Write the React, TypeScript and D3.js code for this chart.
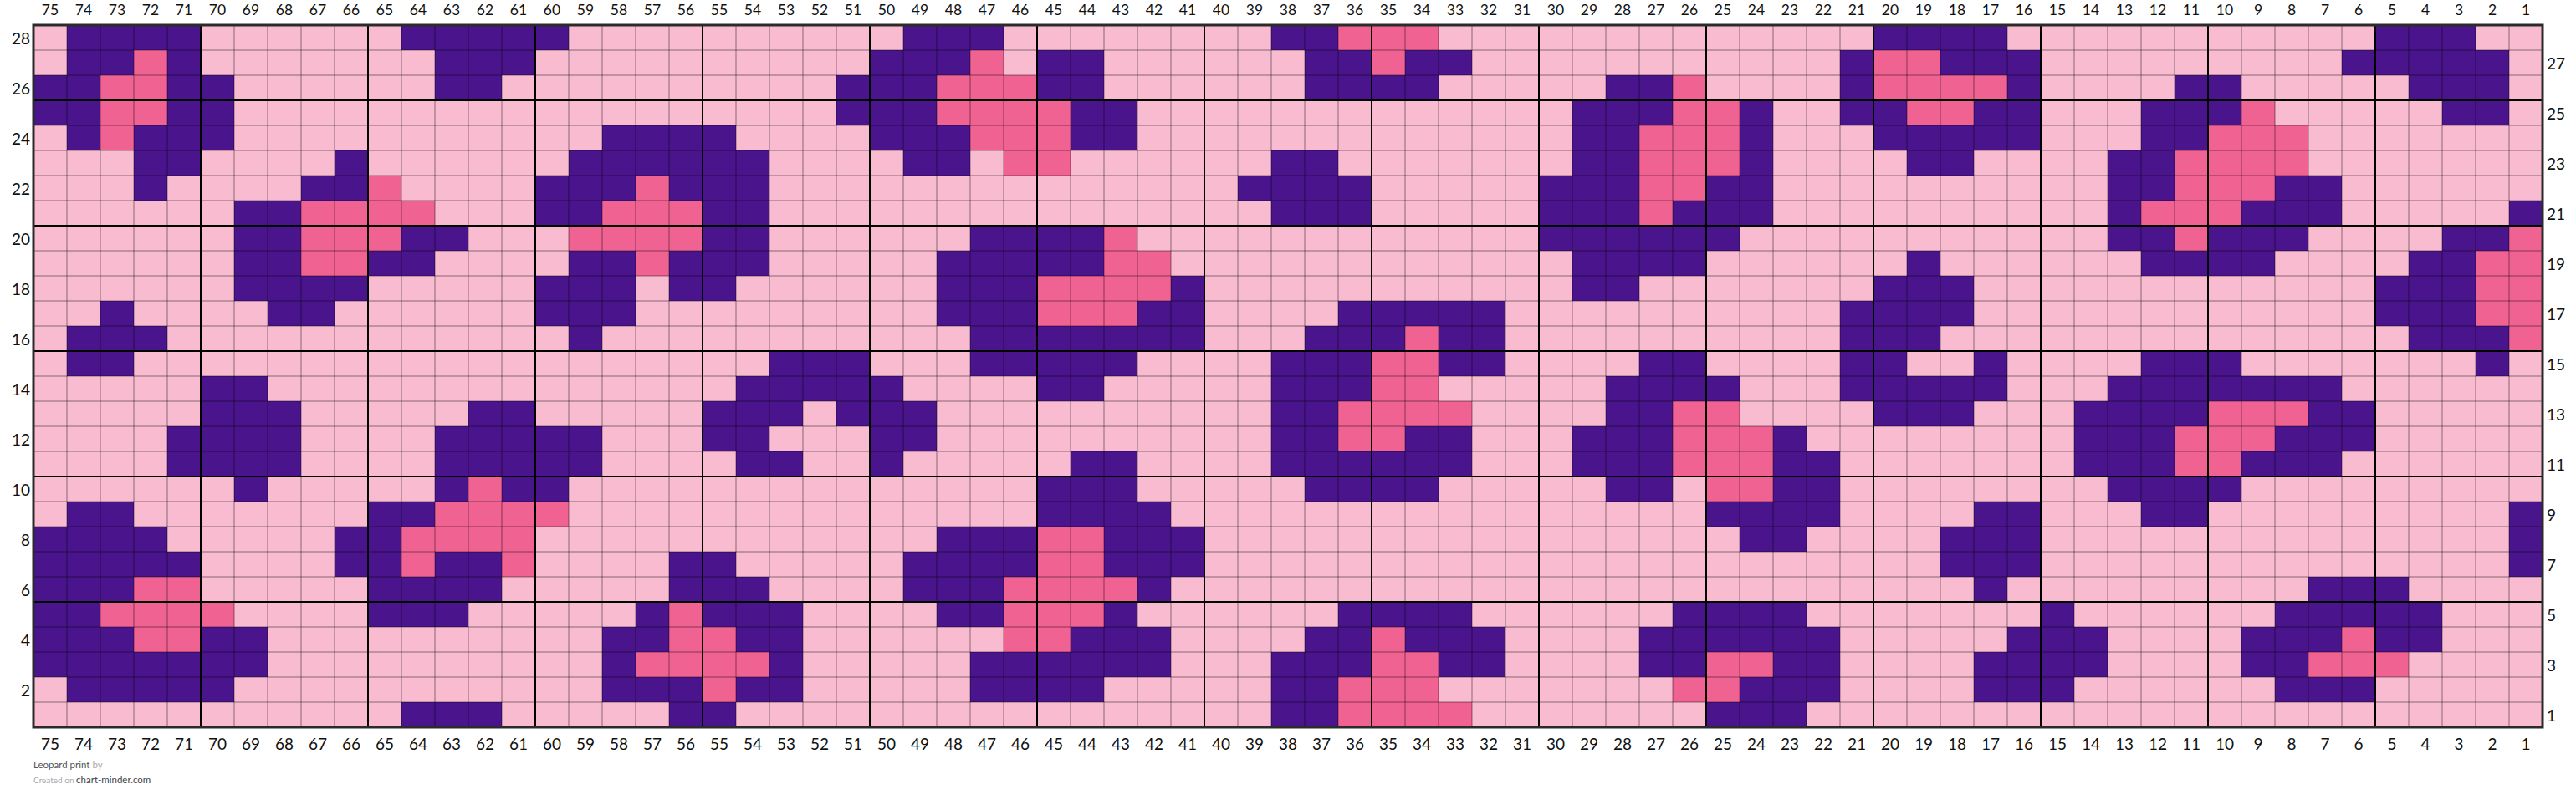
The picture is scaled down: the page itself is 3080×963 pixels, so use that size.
import React from "react";
import * as d3 from "d3";

// Columns are numbered 75 (left) to 1 (right); rows 28 (top) to 1 (bottom).
const columnNumbers: number[] = d3.range(75, 0, -1);
const rowNumbers: number[] = d3.range(28, 0, -1);

// '.' = background light pink, 'D' = dark purple, 'P' = pink. Each string runs from column 75 to column 1.
const chartRows: string[] = [
  /*28*/ ".DDDD" + "....." + ".DDDD" + "D...." + "....." + ".DDD." + "....." + "..DDP" + "PP..." + "....." + "....." + "DDDD." + "....." + "....." + "DDD..",
  /*27*/ ".DDPD" + "....." + "..DDD" + "....." + "....." + "DDDP." + "DD..." + "...DD" + "PDD.." + "....." + "....D" + "PPDDD" + "....." + "....D" + "DDDD.",
  /*26*/ "DDPPD" + "D...." + "..DD." + "....." + "....D" + "DDPPP" + "DD..." + "...DD" + "DD..." + "..DDP" + "....D" + "PPPPD" + "....D" + "D...." + ".DDD.",
  /*25*/ "DDPPD" + "D...." + "....." + "....." + "....D" + "DDPPP" + "PDD.." + "....." + "....." + ".DDDP" + "PD..D" + "DPPDD" + "...DD" + "DP..." + "..DD.",
  /*24*/ ".DPDD" + "D...." + "....." + "..DDD" + "D...." + "DDDPP" + "PDD.." + "....." + "....." + ".DDPP" + "PD..." + "DDDDD" + "...DD" + "PPP.." + ".....",
  /*23*/ "...DD" + "....D" + "....." + ".DDDD" + "DD..." + ".DD.P" + "P...." + "..DD." + "....." + ".DDPP" + "PD..." + ".DD.." + "..DDP" + "PPP.." + ".....",
  /*22*/ "...D." + "...DD" + "P...." + "DDDPD" + "DD..." + "....." + "....." + ".DDDD" + "....." + "DDDPP" + "DD..." + "....." + "..DDP" + "PPDD." + ".....",
  /*21*/ "....." + ".DDPP" + "PP..." + "DDPPP" + "DD..." + "....." + "....." + "..DDD" + "....." + "DDDPD" + "DD..." + "....." + "..DPP" + "PDDD." + "....D",
  /*20*/ "....." + ".DDPP" + "PDD.." + ".PPPP" + "DD..." + "...DD" + "DDP.." + "....." + "....." + "DDDDD" + "D...." + "....." + "..DDP" + "DDD.." + "..DDP",
  /*19*/ "....." + ".DDPP" + "DD..." + ".DDPD" + "DD..." + "..DDD" + "DDPP." + "....." + "....." + ".DDDD" + "....." + ".D..." + "...DD" + "DD..." + ".DDPP",
  /*18*/ "....." + ".DDDD" + "....." + "DDD.D" + "D...." + "..DDD" + "PPPPD" + "....." + "....." + ".DD.." + "....." + "DDD.." + "....." + "....." + "DDDPP",
  /*17*/ "..D.." + "..DD." + "....." + "DDD.." + "....." + "..DDD" + "PPPDD" + "....D" + "DDDD." + "....." + "....D" + "DDD.." + "....." + "....." + "DDDPP",
  /*16*/ ".DDD." + "....." + "....." + ".D..." + "....." + "...DD" + "DDDDD" + "...DD" + "DPDD." + "....." + "....D" + "DD..." + "....." + "....." + ".DDDP",
  /*15*/ ".DD.." + "....." + "....." + "....." + "..DDD" + "...DD" + "DDD.." + "..DDD" + "PPDD." + "...DD" + "....D" + "D..D." + "...DD" + "D...." + "...D.",
  /*14*/ "....." + "DD..." + "....." + "....." + ".DDDD" + "D...." + "DD..." + "..DDD" + "PP..." + "..DDD" + "D...D" + "DDDD." + "..DDD" + "DDDD." + ".....",
  /*13*/ "....." + "DDD.." + "...DD" + "....." + "DDD.D" + "DD..." + "....." + "..DDP" + "PPP.." + "..DDP" + "P...." + "DDD.." + ".DDDD" + "PPPDD" + ".....",
  /*12*/ "....D" + "DDD.." + "..DDD" + "DD..." + "DD..." + "DD..." + "....." + "..DDP" + "PDD.." + ".DDDP" + "PPD.." + "....." + ".DDDP" + "PPDDD" + ".....",
  /*11*/ "....D" + "DDD.." + "..DDD" + "DD..." + ".DD.." + "D...." + ".DD.." + "..DDD" + "DDD.." + ".DDDP" + "PPDD." + "....." + ".DDDP" + "PDDD." + ".....",
  /*10*/ "....." + ".D..." + "..DPD" + "D...." + "....." + "....." + "DDD.." + "...DD" + "DD..." + "..DD." + "PPDD." + "....." + "..DDD" + "D...." + ".....",
  /* 9*/ ".DD.." + "....." + "DDPPP" + "P...." + "....." + "....." + "DDDD." + "....." + "....." + "....." + "DDDD." + "...DD" + "...DD" + "....." + "....D",
  /* 8*/ "DDDD." + "....D" + "DPPPP" + "....." + "....." + "..DDD" + "PPDDD" + "....." + "....." + "....." + ".DD.." + "..DDD" + "....." + "....." + "....D",
  /* 7*/ "DDDDD" + "....D" + "DPDDP" + "....D" + "D...." + ".DDDD" + "PPDDD" + "....." + "....." + "....." + "....." + "..DDD" + "....." + "....." + "....D",
  /* 6*/ "DDDPP" + "....." + "DDDD." + "....D" + "DD..." + ".DDDP" + "PPPD." + "....." + "....." + "....." + "....." + "...D." + "....." + "...DD" + "D....",
  /* 5*/ "DDPPP" + "P...." + "DDD.." + "...DP" + "DDD.." + "..DDP" + "PPD.." + "....D" + "DDD.." + "....D" + "DDD.." + "....." + "D...." + "..DDD" + "DD...",
  /* 4*/ "DDDPP" + "DD..." + "....." + "..DDP" + "PDD.." + "....P" + "PDDD." + "...DD" + "PDDD." + "...DD" + "DDDD." + "....D" + "DD..." + ".DDDP" + "DD...",
  /* 3*/ "DDDDD" + "DD..." + "....." + "..DPP" + "PPD.." + "...DD" + "DDDD." + "..DDD" + "PPDD." + "...DD" + "PPDD." + "...DD" + "DD..." + ".DDPP" + "P....",
  /* 2*/ ".DDDD" + "D...." + "....." + "..DDD" + "PDD.." + "...DD" + "DD..." + "..DDP" + "PP..." + "....P" + "PDDD." + "...DD" + "D...." + "..DDD" + ".....",
  /* 1*/ "....." + "....." + ".DDD." + "....D" + "D...." + "....." + "....." + "..DDP" + "PPP.." + "....." + "DDD.." + "....." + "....." + "....." + ".....",
];

const colorKeys: string[] = [".", "D", "P"];
const colorValues: string[] = ["#f8bbd0", "#4a148c", "#f06292"];

const titleText = "Leopard print";
const byText = "by";
const createdText = "Created on";
const siteText = "chart-minder.com";

const W = 3080;
const H = 963;
const FONT = "Lato, 'Open Sans', sans-serif";

export default function App() {
  const x = d3.scaleBand<number>().domain(columnNumbers).range([40, 3040]);
  const y = d3.scaleBand<number>().domain(rowNumbers).range([30, 870]);
  const color = d3.scaleOrdinal<string, string>().domain(colorKeys).range(colorValues);
  const cw = x.bandwidth();
  const ch = y.bandwidth();
  const left = x.range()[0];
  const right = x.range()[1];
  const top = y.range()[0];
  const bottom = y.range()[1];

  const cells: { c: number; r: number; k: string }[] = [];
  chartRows.forEach((row, ri) => {
    for (let ci = 0; ci < row.length; ci++) {
      cells.push({ c: columnNumbers[ci], r: rowNumbers[ri], k: row[ci] });
    }
  });

  return (
    <div style={{ position: "absolute", left: 0, top: 0 }}>
      <svg width={W} height={H} style={{ display: "block", background: "#fff" }}>
        <g>
          {cells.map((d, i) => (
            <rect key={i} x={x(d.c)!} y={y(d.r)!} width={cw} height={ch} fill={color(d.k)} />
          ))}
        </g>
        {/* thin grid lines */}
        <g stroke="#000" strokeOpacity={0.45} strokeWidth={1}>
          {columnNumbers.map((c) => (
            <line key={"vc" + c} x1={x(c)!} x2={x(c)!} y1={top} y2={bottom} />
          ))}
          {rowNumbers.map((r) => (
            <line key={"hr" + r} x1={left} x2={right} y1={y(r)!} y2={y(r)!} />
          ))}
        </g>
        {/* thick lines every 5 */}
        <g stroke="#000" strokeWidth={2}>
          {columnNumbers
            .filter((c) => c % 5 === 0 && c !== 75)
            .map((c) => (
              <line key={"tc" + c} x1={x(c)!} x2={x(c)!} y1={top} y2={bottom} />
            ))}
          {rowNumbers
            .filter((r) => r % 5 === 0)
            .map((r) => (
              <line key={"tr" + r} x1={left} x2={right} y1={y(r)!} y2={y(r)!} />
            ))}
        </g>
        <rect x={left} y={top} width={right - left} height={bottom - top} fill="none" stroke="#2b2b2b" strokeWidth={3} />
        {/* column labels */}
        <g fontFamily={FONT} fill="#111" textAnchor="middle">
          {columnNumbers.map((c) => (
            <text key={"ct" + c} x={x(c)! + cw / 2} y={top - 12} fontSize={17.5}>
              {c}
            </text>
          ))}
          {columnNumbers.map((c) => (
            <text key={"cb" + c} x={x(c)! + cw / 2} y={bottom + 27} fontSize={19}>
              {c}
            </text>
          ))}
        </g>
        {/* row labels: even on the left, odd on the right */}
        <g fontFamily={FONT} fontSize={19} fill="#111" dominantBaseline="central">
          {rowNumbers
            .filter((r) => r % 2 === 0)
            .map((r) => (
              <text key={"rl" + r} x={left - 4} y={y(r)! + ch / 2} textAnchor="end">
                {r}
              </text>
            ))}
          {rowNumbers
            .filter((r) => r % 2 === 1)
            .map((r) => (
              <text key={"rr" + r} x={right + 5} y={y(r)! + ch / 2} textAnchor="start">
                {r}
              </text>
            ))}
        </g>
        <text x={40} y={919} fontFamily={FONT} fontSize={11.5}>
          <tspan fill="#555">{titleText}</tspan>
          <tspan fill="#aaa">{" " + byText}</tspan>
        </text>
        <text x={40} y={937} fontFamily={FONT}>
          <tspan fill="#aaa" fontSize={10}>{createdText + " "}</tspan>
          <tspan fill="#444" fontSize={11.5}>{siteText}</tspan>
        </text>
      </svg>
    </div>
  );
}
